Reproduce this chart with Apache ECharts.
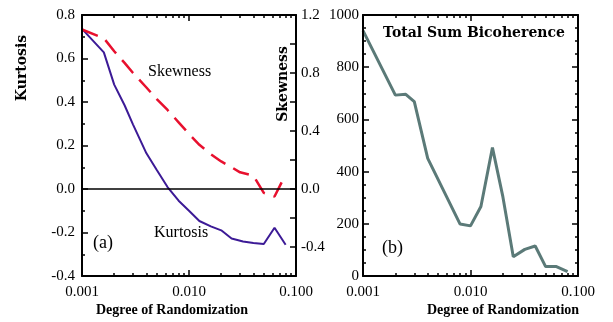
<!DOCTYPE html>
<html>
<head>
<meta charset="utf-8">
<script src="https://cdn.jsdelivr.net/npm/echarts@6/dist/echarts.min.js"></script>
<style>
  html, body { margin: 0; padding: 0; background: #fff; }
  #chart { width: 613px; height: 322px; }
</style>
</head>
<body>
<div id="chart"></div>
<script>
// panel (a): kurtosis (left axis) and skewness (right axis) vs degree of randomization
const kurtX = [0.001, 0.0016, 0.002, 0.0025, 0.003, 0.004, 0.005, 0.0063, 0.008, 0.01, 0.0125, 0.016, 0.02, 0.025, 0.032, 0.04, 0.05, 0.063, 0.08];
const kurtY = [0.736, 0.628, 0.48, 0.385, 0.296, 0.164, 0.087, 0.009, -0.054, -0.1, -0.147, -0.172, -0.19, -0.228, -0.241, -0.248, -0.253, -0.178, -0.256];

const skewX = [0.001, 0.0016, 0.002, 0.0025, 0.003, 0.004, 0.005, 0.0063, 0.008, 0.01, 0.0125, 0.016, 0.02, 0.025, 0.03, 0.04, 0.05, 0.063, 0.08];
const skewY = [1.1, 1.04, 0.95, 0.87, 0.8, 0.7, 0.62, 0.545, 0.46, 0.38, 0.305, 0.24, 0.19, 0.15, 0.115, 0.092, -0.027, -0.052, 0.1];
const skewTickLabels = [-0.4, 0, 0.4, 0.8, 1.2];

// panel (b): total sum bicoherence
const bicX = [0.001, 0.002, 0.0025, 0.003, 0.004, 0.008, 0.01, 0.0125, 0.016, 0.02, 0.025, 0.032, 0.04, 0.05, 0.063, 0.08];
const bicY = [940, 693, 696, 668, 451, 199, 192, 266, 492, 304, 74, 102, 115, 36, 36, 17];

const xTickLabels = { 0.001: "0.001", 0.01: "0.010", 0.1: "0.100" };

const zip = (xs, ys) => xs.map((x, i) => [x, ys[i]]);

const serif = "Liberation Serif";
const labelStyle = { fontFamily: serif, fontSize: 15, color: "#000" };

function boxLine() {
  return { show: true, onZero: false, lineStyle: { color: "#000", width: 2 } };
}
function majorTick() {
  return { show: true, inside: true, length: 6, lineStyle: { color: "#000", width: 1.5 } };
}
function minorTick(n) {
  return { show: true, splitNumber: n, length: 3, lineStyle: { color: "#000", width: 1.5 } };
}

function logAxis(gridIndex, position, showLabel) {
  return {
    type: "log",
    logBase: 10,
    gridIndex,
    position,
    z: 10,
    min: 0.001,
    max: 0.1,
    axisLine: boxLine(),
    axisTick: majorTick(),
    minorTick: minorTick(9),
    splitLine: { show: false },
    axisLabel: {
      show: showLabel,
      margin: 9,
      ...labelStyle,
      formatter: (v) => xTickLabels[v] ?? "",
    },
  };
}

const chart = echarts.init(document.getElementById("chart"));
chart.setOption({
  animation: false,
  backgroundColor: "#fff",
  grid: [
    { left: 82, top: 15, width: 214, height: 261 },
    { left: 363, top: 15, width: 215, height: 261 },
  ],
  xAxis: [
    logAxis(0, "bottom", true),
    logAxis(0, "top", false),
    logAxis(1, "bottom", true),
    logAxis(1, "top", false),
  ],
  yAxis: [
    {
      type: "value", gridIndex: 0, position: "left", z: 10,
      min: -0.4, max: 0.8, interval: 0.2,
      axisLine: boxLine(), axisTick: majorTick(),
      minorTick: minorTick(2),
      splitLine: { show: false },
      axisLabel: { margin: 7, ...labelStyle, formatter: (v) => v.toFixed(1) },
    },
    {
      type: "value", gridIndex: 0, position: "right", z: 10,
      min: -0.6, max: 1.2, interval: 0.2,
      axisLine: boxLine(), axisTick: majorTick(),
      splitLine: { show: false },
      axisLabel: { margin: 5, ...labelStyle, customValues: skewTickLabels, formatter: (v) => v.toFixed(1) },
    },
    {
      type: "value", gridIndex: 1, position: "left", z: 10,
      min: 0, max: 1000, interval: 200,
      axisLine: boxLine(), axisTick: majorTick(),
      minorTick: minorTick(4),
      splitLine: { show: false },
      axisLabel: { margin: 4, ...labelStyle, formatter: (v) => String(v) },
    },
    {
      type: "value", gridIndex: 1, position: "right", z: 10,
      min: 0, max: 1000, interval: 200,
      axisLine: boxLine(), axisTick: majorTick(),
      minorTick: minorTick(4),
      splitLine: { show: false },
      axisLabel: { show: false },
    },
  ],
  series: [
    {
      name: "Kurtosis",
      type: "line",
      xAxisIndex: 0,
      yAxisIndex: 0,
      data: zip(kurtX, kurtY),
      showSymbol: false,
      lineStyle: { color: "#3c1a96", width: 2 },
      markLine: {
        silent: true,
        symbol: "none",
        label: { show: false },
        lineStyle: { color: "#000", width: 1.5, type: "solid" },
        data: [{ yAxis: 0 }],
      },
    },
    {
      name: "Skewness",
      type: "line",
      xAxisIndex: 0,
      yAxisIndex: 1,
      data: zip(skewX, skewY),
      showSymbol: false,
      lineStyle: { color: "#e8102e", width: 2.5, type: [17, 9] },
    },
    {
      name: "Total Sum Bicoherence",
      type: "line",
      xAxisIndex: 2,
      yAxisIndex: 2,
      data: zip(bicX, bicY),
      showSymbol: false,
      lineStyle: { color: "#5b7a78", width: 3 },
    },
  ],
  graphic: [
    { type: "text", x: 22, y: 68, rotation: Math.PI / 2,
      style: { text: "Kurtosis", font: "bold 14px 'DejaVu Serif'", fill: "#000", align: "center", verticalAlign: "middle" } },
    { type: "text", x: 283, y: 84, rotation: Math.PI / 2,
      style: { text: "Skewness", font: "bold 14px 'DejaVu Serif'", fill: "#000", align: "center", verticalAlign: "middle" } },
    { type: "text", x: 148, y: 72,
      style: { text: "Skewness", font: "16px 'Liberation Serif'", fill: "#000", align: "left", verticalAlign: "middle" } },
    { type: "text", x: 154, y: 233,
      style: { text: "Kurtosis", font: "16px 'Liberation Serif'", fill: "#000", align: "left", verticalAlign: "middle" } },
    { type: "text", x: 93, y: 243,
      style: { text: "(a)", font: "18px 'Liberation Serif'", fill: "#000", align: "left", verticalAlign: "middle" } },
    { type: "text", x: 382, y: 248,
      style: { text: "(b)", font: "18px 'Liberation Serif'", fill: "#000", align: "left", verticalAlign: "middle" } },
    { type: "text", x: 474, y: 33,
      style: { text: "Total Sum Bicoherence", font: "bold 14px 'DejaVu Serif'", fill: "#000", align: "center", verticalAlign: "middle" } },
    { type: "text", x: 172, y: 310,
      style: { text: "Degree of Randomization", font: "bold 14px 'Liberation Serif'", fill: "#000", align: "center", verticalAlign: "middle" } },
    { type: "text", x: 503, y: 310,
      style: { text: "Degree of Randomization", font: "bold 14px 'Liberation Serif'", fill: "#000", align: "center", verticalAlign: "middle" } },
  ],
});
</script>
</body>
</html>
